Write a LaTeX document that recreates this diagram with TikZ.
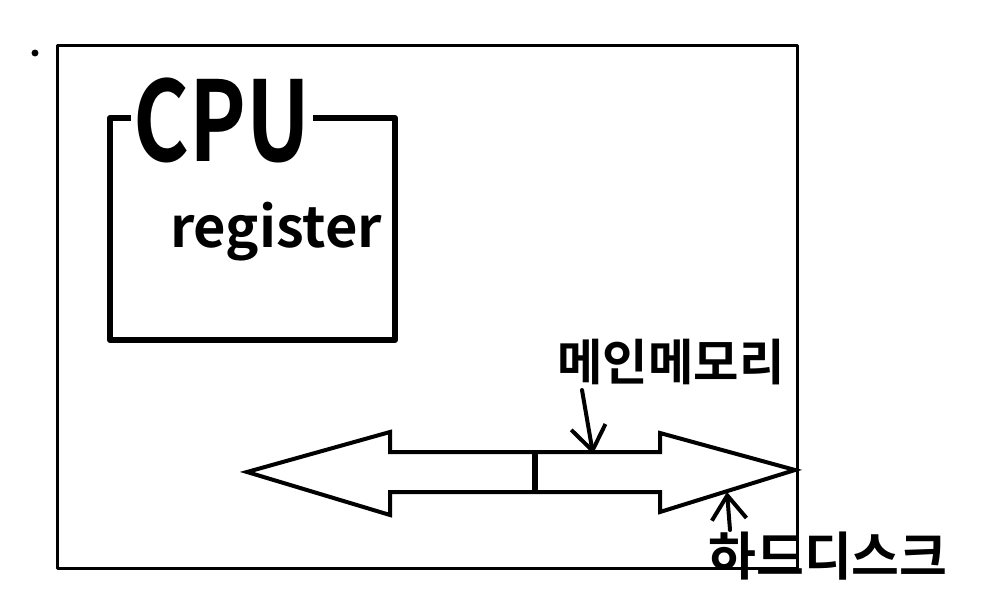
\documentclass[tikz,border=0pt]{standalone}
\usepackage{fontspec}
\usepackage{graphicx}
\setmainfont{Noto Sans CJK KR}[BoldFont={Noto Sans CJK KR Bold}]
\usetikzlibrary{arrows.meta}
\tikzset{
  box/.style={draw, inner sep=0pt, line cap=round, line join=round},
  lbl/.style={inner sep=2pt},
  pointer/.style={line width=3pt, line cap=round, -{Straight Barb[length=18pt,width=26pt,line width=3pt]}},
}
\begin{document}
\begin{tikzpicture}[x=0.75pt, y=-0.75pt]
\useasboundingbox (0,0) rectangle (987,609);
% small dot
\fill (35,53) circle [radius=2.6pt];
% outer frame
\node[box, line width=2.25pt, minimum width=555pt, minimum height=391.5pt] (frame) at (427,307) {};
% CPU box
\node[box, line width=4.5pt, minimum width=213.75pt, minimum height=166.5pt] (cpu) at (252.5,229) {};
\node[lbl, fill=white, minimum width=135pt, font=\fontsize{64}{64}\selectfont\bfseries] (cpulabel) at (222,120) {\scalebox{1}[1.3]{CPU}};
\node[lbl, font=\fontsize{42}{42}\selectfont\bfseries] (reg) at (276,232) {register};
% double arrow (bus)
\draw[line width=3pt, line join=miter]
  (247,472) -- (390,432) -- (390,452) -- (660,452) -- (660,433) -- (795,470)
  -- (660,512) -- (660,492) -- (390,492) -- (390,515) -- cycle;
\draw[line width=4.5pt] (535,454) -- (535,493);
% labels
\node[lbl, font=\fontsize{37}{37}\selectfont\bfseries] (mm) at (671,362) {메인메모리};
\node[lbl, font=\fontsize{39}{39}\selectfont\bfseries] (hd) at (828,556) {하드디스크};
\coordinate (mmfoot) at (582,390);
\coordinate (mmtip) at (593,454);
\coordinate (hdfoot) at (730,530);
\coordinate (hdtip) at (727,492);
\draw[pointer] (mmfoot) -- (mmtip);
\draw[pointer] (hdfoot) -- (hdtip);
\end{tikzpicture}
\end{document}
